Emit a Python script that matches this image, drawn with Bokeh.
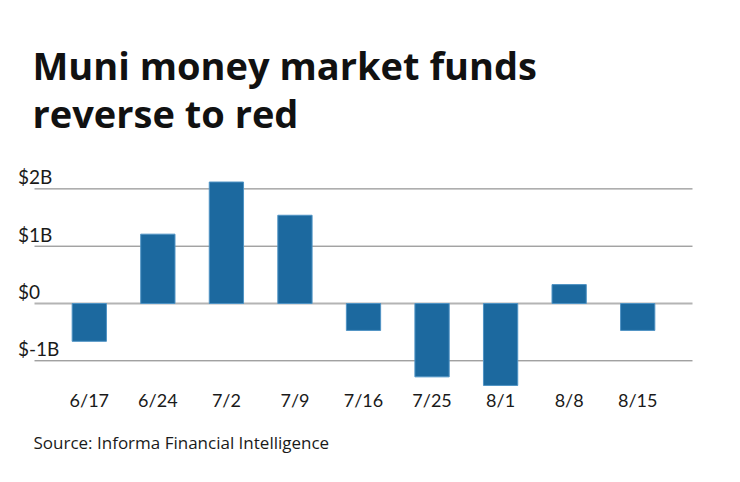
from bokeh.plotting import figure
from bokeh.models import Range1d, Label, ColumnDataSource
from bokeh.core.properties import value
from bokeh.embed import file_html
from bokeh.resources import INLINE

weeks = ["6/17", "6/24", "7/2", "7/9", "7/16", "7/25", "8/1", "8/8", "8/15"]
flows_billion = [-0.66, 1.21, 2.12, 1.54, -0.47, -1.28, -1.43, 0.33, -0.47]
tick_values = [-1, 0, 1, 2]
tick_labels = ["$-1B", "$0", "$1B", "$2B"]
title_lines = ["Muni money market funds", "reverse to red"]
source_note = "Source: Informa Financial Intelligence"

# ---- layout constants (pixels) ----
W, H = 740, 482
PX_Y = 57.3          # pixels per $1B
ZERO_Y = 303         # canvas y of $0
PX_X = 68.55         # pixels per category step
FIRST_X = 88.8       # canvas x of first bar centre
GRID_L, GRID_R = 34, 692
YLAB_X = 17.5
XLAB_BASE = 399

def dx(px):  # canvas x -> data x
    return (px - FIRST_X) / PX_X

def dy(py):  # canvas y -> data y
    return (ZERO_Y - py) / PX_Y

FONT = "Lato"
TITLE_FONT = "Open Sans"
BAR = "#1c699f"
TXT = "#1a1a1a"

p = figure(width=W, height=H, output_backend="svg", toolbar_location=None,
           x_range=Range1d(dx(0), dx(W)), y_range=Range1d(dy(H), dy(0)),
           min_border=0)
p.outline_line_color = None
p.axis.visible = False
p.grid.visible = False
p.background_fill_color = "white"
p.border_fill_color = "white"

xpos = list(range(len(weeks)))

# grid lines
grid_ticks = [t for t in tick_values if t != 0]
p.segment(x0=[dx(GRID_L)] * len(grid_ticks), x1=[dx(GRID_R)] * len(grid_ticks),
          y0=grid_ticks, y1=grid_ticks, line_color="#7a7a7a", line_width=1)
p.segment(x0=[dx(GRID_L)], x1=[dx(GRID_R)], y0=[0], y1=[0],
          line_color="#b4b4b4", line_width=2)

# bars
src = ColumnDataSource(dict(x=xpos, flow=flows_billion, week=weeks))
p.vbar(x="x", top="flow", bottom=0, width=0.5, source=src,
       fill_color=BAR, line_color="#4f93c4", line_width=1)

# x labels
p.text(x="x", y=dy(XLAB_BASE), text="week", source=src, text_font=value(FONT),
       text_font_size="18px", text_color=TXT, text_align="center",
       text_baseline="alphabetic")

# y labels above grid lines
lab_src = ColumnDataSource(dict(y=tick_values, text=tick_labels))
p.text(x=dx(YLAB_X), y="y", text="text", source=lab_src, y_offset=-12,
       text_font=value(FONT), text_font_size="19px", text_color=TXT,
       text_align="left", text_baseline="alphabetic")

# title
for line, base in zip(title_lines, [64, 112]):
    p.add_layout(Label(x=32, y=H - base, x_units="screen", y_units="screen",
                       text=line, text_font=TITLE_FONT, text_font_size="38px",
                       text_font_style="bold", text_color="#111111",
                       text_baseline="alphabetic"))

p.add_layout(Label(x=33, y=H - 442, x_units="screen", y_units="screen",
                   text=source_note, text_font=TITLE_FONT, text_font_size="17px",
                   text_color=TXT, text_baseline="alphabetic"))

open("out.html", "w").write(file_html(p, INLINE))
